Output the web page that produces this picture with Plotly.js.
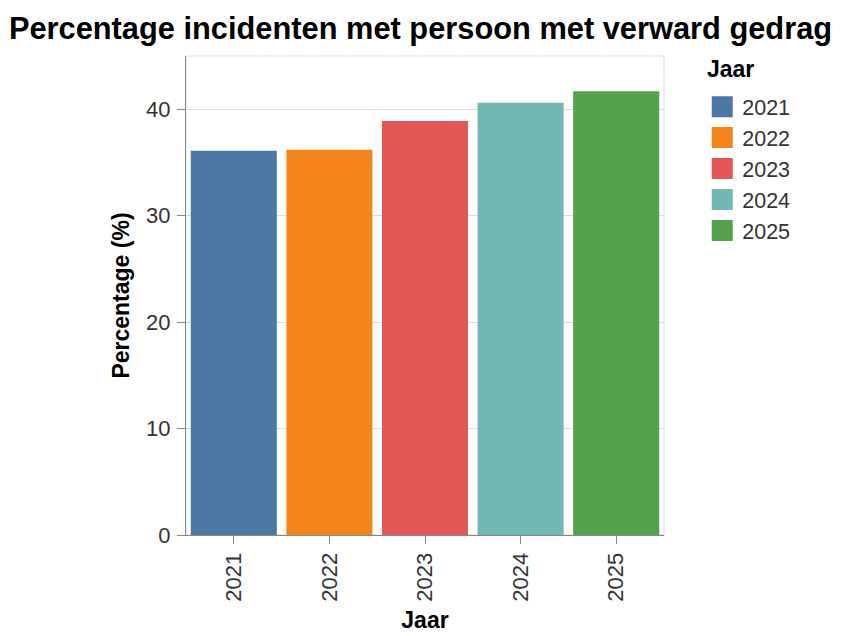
<!DOCTYPE html>
<html>
<head>
<meta charset="utf-8">
<script src="https://cdn.plot.ly/plotly-3.0.1.min.js"></script>
<style>html,body{margin:0;padding:0;background:#fff;}#chart{width:841px;height:636px;}</style>
</head>
<body>
<div id="chart"></div>
<script>
const years = ["2021", "2022", "2023", "2024", "2025"];
const percentages = [36.1, 36.2, 38.9, 40.6, 41.7];
const colors = ["#4c78a8", "#f58518", "#e45756", "#72b7b2", "#54a24b"];

const traces = [];
years.forEach((y, i) => {
  traces.push({
    type: "bar",
    x: [y],
    y: [percentages[i]],
    name: y,
    marker: {color: colors[i], line: {width: 0}},
    showlegend: false,
    hoverinfo: "x+y"
  });
});
years.forEach((y, i) => {
  traces.push({
    type: "scatter",
    mode: "markers",
    x: [null],
    y: [null],
    name: y,
    marker: {color: colors[i], symbol: "square", size: 16, line: {width: 6, color: colors[i]}},
    showlegend: true
  });
});

const font = "Liberation Sans, Arial, sans-serif";
const layout = {
  width: 841,
  height: 636,
  margin: {l: 186, r: 177, t: 56, b: 101},
  paper_bgcolor: "#fff",
  plot_bgcolor: "#fff",
  font: {family: font, size: 22, color: "#333"},
  title: {text: "<b>Percentage incidenten met persoon met verward gedrag</b>", x: 0.5, xanchor: "center", y: 0.956, yanchor: "middle", font: {family: font, size: 30.8, color: "#000"}},
  barmode: "overlay",
  bargap: 0.1,
  xaxis: {
    type: "category",
    categoryorder: "array",
    categoryarray: years,
    tickangle: -90,
    ticks: "outside",
    ticklen: 8,
    tickcolor: "#888",
    showline: true,
    linecolor: "#888",
    linewidth: 1,
    mirror: false,
    showgrid: false,
    tickfont: {size: 22, color: "#333"},
    title: {text: "<b>Jaar</b>", font: {size: 23, color: "#000"}, standoff: 11},
    range: [-0.5, 4.5],
    fixedrange: true
  },
  yaxis: {
    range: [0, 45],
    tickvals: [0, 10, 20, 30, 40],
    ticks: "outside",
    ticklen: 8,
    tickcolor: "#888",
    showline: true,
    linecolor: "#888",
    linewidth: 1,
    showgrid: true,
    gridcolor: "#ddd",
    zeroline: false,
    ticklabelstandoff: 2,
    tickfont: {size: 22, color: "#333"},
    title: {text: "<b>Percentage (%)</b>", font: {size: 23, color: "#000"}, standoff: 10},
    fixedrange: true
  },
  shapes: [
    {type: "rect", xref: "paper", yref: "paper", x0: 0, x1: 1, y0: 0, y1: 1, line: {color: "#ddd", width: 1}, layer: "below"}
  ],
  annotations: [
    {text: "<b>Jaar</b>", xref: "paper", yref: "paper", x: 1.086, y: 0.973, xanchor: "left", yanchor: "middle", showarrow: false, font: {family: font, size: 23, color: "#000"}}
  ],
  legend: {
    x: 1.08,
    xanchor: "left",
    y: 0.937,
    yanchor: "top",
    font: {size: 21.5, color: "#333"},
    tracegroupgap: 0,
    itemwidth: 30,
    bgcolor: "rgba(0,0,0,0)"
  }
};

Plotly.newPlot("chart", traces, layout, {displayModeBar: false, staticPlot: true});
</script>
</body>
</html>
